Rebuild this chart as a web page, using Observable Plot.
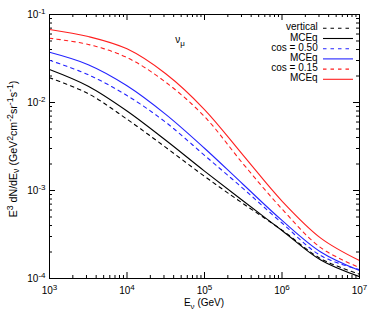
<!DOCTYPE html>
<html><head><meta charset="utf-8">
<script src="https://cdn.jsdelivr.net/npm/d3@7"></script>
<script src="https://cdn.jsdelivr.net/npm/@observablehq/plot@0.6"></script>
<style>
body{margin:0;background:#fff;}
svg{font-family:"Liberation Sans",Arial,Helvetica,sans-serif;}
</style>
</head><body><div id="chart"></div>
<script>
// ---- data ----
const energy = [1000, 3162, 10000, 31623, 100000, 316228, 1000000, 3162278, 10000000];
const verticalRef  = [0.0191, 0.0126, 0.00646, 0.00309, 0.00145, 0.000708, 0.000355, 0.000168, 0.000112];
const verticalMCEq = [0.0237, 0.0153, 0.00800, 0.00372, 0.00166, 0.000759, 0.000351, 0.000162, 0.000105];
const cos050Ref    = [0.0302, 0.0207, 0.0120, 0.00596, 0.00251, 0.00105, 0.000427, 0.000182, 0.000126];
const cos050MCEq   = [0.0372, 0.0269, 0.0155, 0.00733, 0.00302, 0.00117, 0.000457, 0.000200, 0.000123];
const cos015Ref    = [0.0537, 0.0457, 0.0324, 0.0170, 0.00692, 0.00200, 0.000617, 0.000224, 0.000133];
const cos015MCEq   = [0.0676, 0.0562, 0.0407, 0.0212, 0.00832, 0.00251, 0.000759, 0.000288, 0.000160];

const legendLabels = ["vertical", "MCEq", "cos = 0.50", "MCEq", "cos = 0.15", "MCEq"];
const seriesValues = [verticalRef, verticalMCEq, cos050Ref, cos050MCEq, cos015Ref, cos015MCEq];
const seriesColors = ["#000000", "#000000", "#2424ff", "#2424ff", "#ff1f1f", "#ff1f1f"];
const seriesDashed = [true, false, true, false, true, false];

const xTickValues = [1e3, 1e4, 1e5, 1e6, 1e7];
const xTickLabels = ["10^3", "10^4", "10^5", "10^6", "10^7"];
const yTickValues = [1e-4, 1e-3, 1e-2, 1e-1];
const yTickLabels = ["10^-4", "10^-3", "10^-2", "10^-1"];
const minorMultipliers = [2, 3, 4, 5, 6, 7, 8, 9];

// ---- layout ----
const W = 374, H = 313, mL = 49, mR = 15, mT = 14, mB = 35;
const innerW = W - mL - mR, innerH = H - mT - mB;
const majorLen = 6, minorLen = 3;
const dash = "3.5,4";

const xMinor = xTickValues.slice(0, -1).flatMap(d => minorMultipliers.map(m => d * m));
const yMinor = yTickValues.slice(0, -1).flatMap(d => minorMultipliers.map(m => d * m));
const xLabelOf = new Map(xTickValues.map((d, i) => [d, xTickLabels[i]]));
const yLabelOf = new Map(yTickValues.map((d, i) => [d, yTickLabels[i]]));

const seriesRows = seriesValues.map(vals => energy.map((e, i) => ({e, v: vals[i]})));

const lineMarks = seriesRows.map((rows, k) => Plot.line(rows, {
  x: "e", y: "v", stroke: seriesColors[k], strokeWidth: 1.1,
  strokeDasharray: seriesDashed[k] ? dash : null, curve: "catmull-rom"
}));

const tickStyle = {stroke: "#000", strokeWidth: 1};
const plot = Plot.plot({
  width: W, height: H,
  marginLeft: mL, marginRight: mR, marginTop: mT, marginBottom: mB,
  style: {fontFamily: '"Liberation Sans", Arial, sans-serif', fontSize: "10px", background: "#fff", color: "#000"},
  x: {type: "log", domain: [1e3, 1e7]},
  y: {type: "log", domain: [1e-4, 1e-1]},
  marks: [
    Plot.axisX(xTickValues, {tickSize: 0, tickPadding: 8, tickFormat: d => xLabelOf.get(d), label: null, fontSize: 10}),
    Plot.axisY(yTickValues, {tickSize: 0, tickPadding: 4, tickFormat: d => yLabelOf.get(d), label: null, fontSize: 10}),
    // inward ticks on all four sides
    Plot.ruleX(xTickValues, {x: d => d, insetTop: innerH - majorLen, ...tickStyle}),
    Plot.ruleX(xTickValues, {x: d => d, insetBottom: innerH - majorLen, ...tickStyle}),
    Plot.ruleX(xMinor, {x: d => d, insetTop: innerH - minorLen, ...tickStyle}),
    Plot.ruleX(xMinor, {x: d => d, insetBottom: innerH - minorLen, ...tickStyle}),
    Plot.ruleY(yTickValues, {y: d => d, insetRight: innerW - majorLen, ...tickStyle}),
    Plot.ruleY(yTickValues, {y: d => d, insetLeft: innerW - majorLen, ...tickStyle}),
    Plot.ruleY(yMinor, {y: d => d, insetRight: innerW - minorLen, ...tickStyle}),
    Plot.ruleY(yMinor, {y: d => d, insetLeft: innerW - minorLen, ...tickStyle}),
    ...lineMarks,
    Plot.frame({stroke: "#000", strokeWidth: 1})
  ]
});
document.getElementById("chart").appendChild(plot);

const svg = d3.select(plot);
// exponents as real superscripts
svg.selectAll("text").each(function () {
  const m = this.textContent.match(/^10\^(.+)$/);
  if (!m) return;
  const t = d3.select(this);
  t.text(null);
  t.append("tspan").text("10");
  t.append("tspan").attr("dy", "-4").attr("font-size", "8px").text(m[1]);
});

// rich text helper: parts = [[text, "n"|"sup"|"sub"], ...]
function rich(textSel, parts, base = 10, small = 8) {
  let shift = 0;
  parts.forEach(([s, kind]) => {
    const target = kind === "sup" ? -4 : kind === "sub" ? 2.5 : 0;
    textSel.append("tspan").attr("dy", target - shift)
      .attr("font-size", (kind === "n" ? base : small) + "px").text(s);
    shift = target;
  });
}

const g = svg.append("g").attr("fill", "#000").attr("font-size", "10px");

// x label
rich(g.append("text").attr("x", mL + innerW / 2).attr("y", 306).attr("text-anchor", "middle"),
  [["E", "n"], ["ν", "sub"], [" (GeV)", "n"]]);

// y label
rich(g.append("text").attr("transform", `translate(16.5,${mT + innerH / 2 + 3}) rotate(-90)`).attr("text-anchor", "middle"),
  [["E", "n"], ["3", "sup"], [" dN/dE", "n"], ["ν", "sub"], [" (GeV", "n"], ["2", "sup"], ["cm", "n"], ["-2", "sup"],
   ["sr", "n"], ["-1", "sup"], ["s", "n"], ["-1", "sup"], [")", "n"]], 10.6, 8.8);

// nu_mu annotation
rich(g.append("text").attr("x", 180).attr("y", 43), [["ν", "n"], ["μ", "sub"]]);

// legend (top right, inside frame)
const legTextX = 317.7, legX1 = 323, legX2 = 353, legY0 = 28.3, legStep = 10.2;
legendLabels.forEach((lab, i) => {
  const y = legY0 + legStep * i;
  g.append("text").attr("x", legTextX).attr("y", y + 2).attr("text-anchor", "end").text(lab);
  g.append("line").attr("x1", legX1).attr("x2", legX2).attr("y1", y).attr("y2", y)
    .attr("stroke", seriesColors[i]).attr("stroke-width", 1.1)
    .attr("stroke-dasharray", seriesDashed[i] ? dash : null);
});
</script>
</body></html>
